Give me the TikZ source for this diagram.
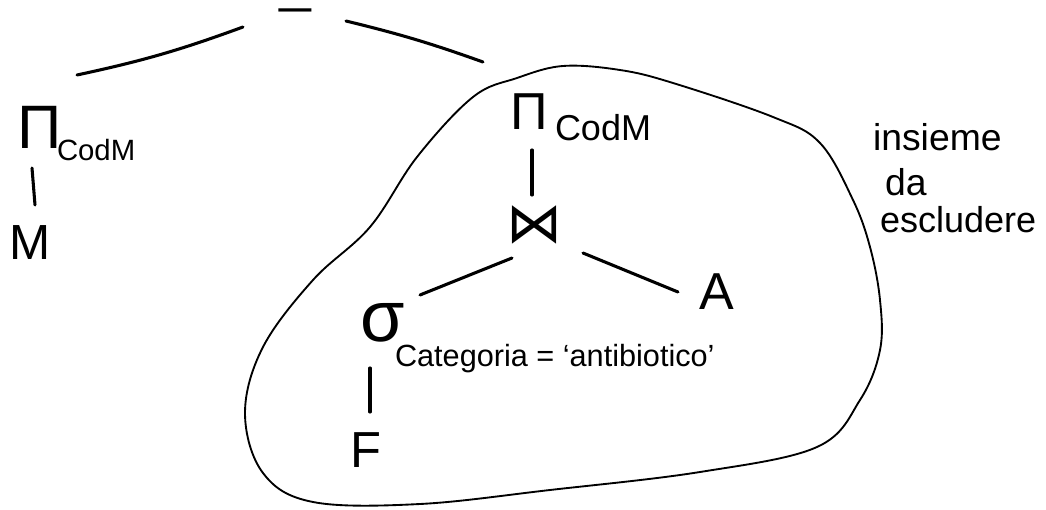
\documentclass[tikz,border=0pt]{standalone}
\usepackage{fontspec}
\setmainfont{Liberation Sans}
\newfontfamily\symfont{DejaVu Sans}
\usetikzlibrary{calc}
\newcommand\setfs[1]{\fontsize{#1}{#1}\selectfont}
\tikzset{
  op/.style={inner sep=0pt, outer sep=0pt, text=black},
  edge/.style={line width=2.3pt, line cap=round},
  blob/.style={line width=1.4pt}
}
\begin{document}
\begin{tikzpicture}[x=0.75pt,y=-0.75pt]
\useasboundingbox (0,0) rectangle (1046,510);
% operators and relations
\node[op] (minus) at (295,17) {\scalebox{1.5}[1]{\setfs{34}−}};
\node[op] (piL) at (40,127) {\setfs{46}Π};
\node[op, anchor=base west] (subL) at (57,160) {\setfs{22}CodM};
\node[op] (M) at (30,243) {\setfs{37}M};
\node[op] (piR) at (529,112) {\setfs{39}Π};
\node[op, anchor=base west] (subR) at (555,140) {\setfs{27}CodM};
\node[op] (join) at (534,225) {\symfont\setfs{42}⋈};
\node[op] (sigma) at (383,323) {\setfs{54}σ};
\node[op, anchor=base west] (subS) at (395,366) {\setfs{23}Categoria = `antibiotico'};
\node[op] (A) at (717,292) {\setfs{39}A};
\node[op] (F) at (366,450) {\setfs{38}F};
% side note
\node[op, anchor=base west] (n1) at (873,150) {\setfs{28}insieme};
\node[op, anchor=base west] (n2) at (885,195) {\setfs{28}da};
\node[op, anchor=base west] (n3) at (880,232) {\setfs{27}escludere};
% edges
\draw[edge] ($(minus)+(-52,10)$) to[bend left=4] ($(piL)+(37,-52)$);
\draw[edge] ($(minus)+(51,4)$) to[bend left=3] ($(piR)+(-46,-50)$);
\draw[edge] ($(piL)+(-8,41)$) -- ($(M)+(5,-38)$);
\draw[edge] ($(piR)+(3,38)$) -- ($(join)+(-2,-30)$);
\draw[edge] ($(join)+(-22,33)$) -- ($(sigma)+(37,-28)$);
\draw[edge] ($(join)+(49,28)$) -- ($(A)+(-39,0)$);
\draw[edge] ($(sigma)+(-13,45)$) -- ($(F)+(4,-38)$);
% enclosing set
\draw[blob] plot[smooth cycle, tension=0.6] coordinates {
  (517,78) (563,66) (620,70) (673,83) (773,117) (820,143) (853,200)
  (870,247) (880,300) (880,350) (860,400) (817,447) (700,472) (550,490)
  (420,504) (313,502) (263,473) (245,413) (263,347) (313,280) (370,227)
  (417,157) (473,97)};
\end{tikzpicture}
\end{document}
